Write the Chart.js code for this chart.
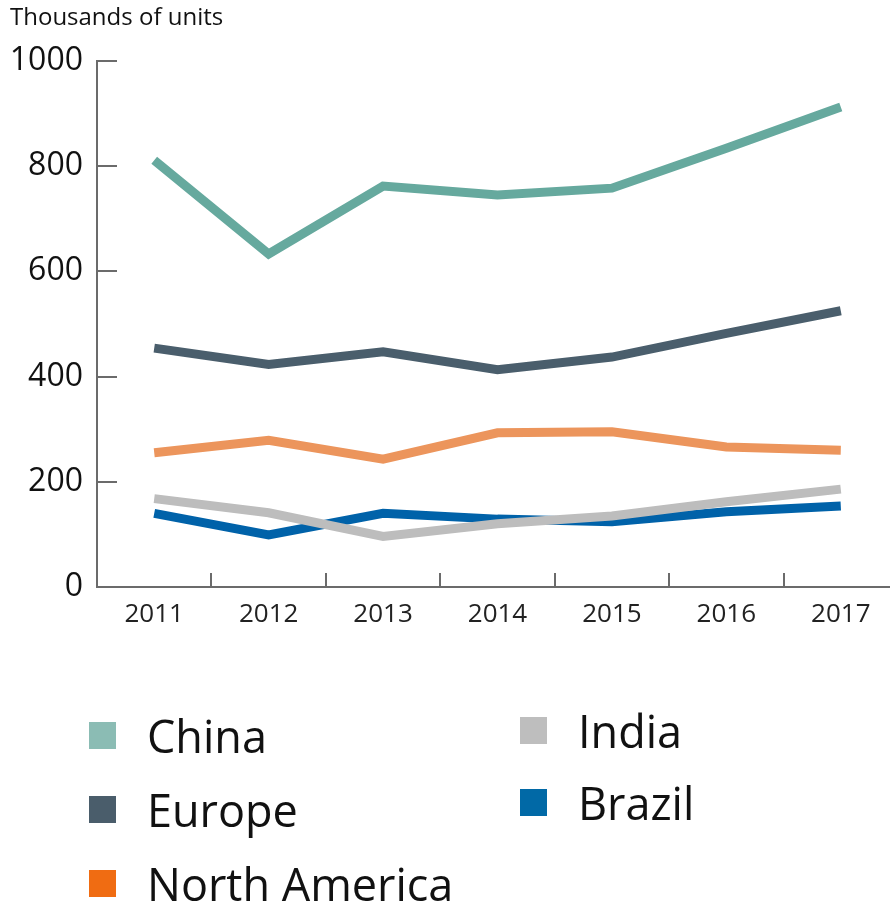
<!DOCTYPE html>
<html>
<head>
<meta charset="utf-8">
<script src="https://cdn.jsdelivr.net/npm/chart.js@4/dist/chart.umd.min.js"></script>
<style>
  html, body { margin: 0; padding: 0; background: #fff; overflow: hidden; }
  #wrap { position: relative; width: 890px; height: 902px; overflow: hidden; }
  #plot { position: absolute; left: 0; top: 0; width: 900px; height: 660px; }
  #legend { position: absolute; left: 0; top: 0; width: 890px; height: 902px;
            font-family: "Open Sans", sans-serif; font-size: 45px; color: #111; }
  .item { position: absolute; display: flex; align-items: center; height: 60px; white-space: nowrap; }
  .box { width: 27px; height: 27px; margin-right: 31px; flex: none; }
</style>
</head>
<body>
<div id="wrap">
  <div id="plot"><canvas id="chart" width="900" height="660"></canvas></div>
  <div id="legend"></div>
</div>
<script>
// Years on the horizontal axis
const years = ['2011', '2012', '2013', '2014', '2015', '2016', '2017'];

// Sales by region, thousands of units
const china        = [811, 633, 762, 745, 758, 834, 912];
const europe       = [454, 423, 447, 413, 437, 482, 525];
const northAmerica = [255, 279, 243, 293, 295, 266, 260];
const india        = [168, 141,  96, 120, 135, 162, 186];
const brazil       = [140,  99, 140, 129, 124, 143, 154];

const seriesNames = ['China', 'Europe', 'North America', 'India', 'Brazil'];
const lineColors   = ['#66a99e', '#4a5e6c', '#ec955c', '#bdbdbd', '#0062a9'];
const legendColors = ['#8bbcb4', '#4a5d6b', '#f06c12', '#bebebe', '#0169a6'];

// Value axis ticks
const yTicks = [0, 200, 400, 600, 800, 1000];

const AXIS_COLOR = '#6b6b6b';

// Short tick marks drawn inward from both axes, placed by the scales
const innerTicks = {
  id: 'innerTicks',
  beforeDatasetsDraw(chart) {
    const { ctx, chartArea, scales } = chart;
    const xs = scales.x, ys = scales.y;
    ctx.save();
    ctx.strokeStyle = AXIS_COLOR;
    ctx.lineWidth = 2;
    ctx.beginPath();
    ys.ticks.forEach((t, i) => {
      const y = Math.round(ys.getPixelForTick(i));
      ctx.moveTo(chartArea.left, y);
      ctx.lineTo(chartArea.left + 20, y);
    });
    for (let i = 1; i <= years.length; i++) {
      const x = Math.round(xs.getPixelForValue(i - 0.5));
      ctx.moveTo(x, chartArea.bottom);
      ctx.lineTo(x, chartArea.bottom - 14);
    }
    ctx.stroke();
    ctx.restore();
  }
};

const values = [china, europe, northAmerica, india, brazil];

const chart = new Chart(document.getElementById('chart'), {
  type: 'line',
  data: {
    labels: years,
    datasets: values.map((v, i) => ({
      label: seriesNames[i],
      data: v,
      borderColor: lineColors[i],
      backgroundColor: lineColors[i],
      borderWidth: 9,
      borderJoinStyle: 'miter',
      borderCapStyle: 'butt',
      pointRadius: 0,
      pointHoverRadius: 0,
      tension: 0,
      fill: false
    }))
  },
  options: {
    responsive: false,
    animation: false,
    devicePixelRatio: 1,
    layout: { padding: { left: 10, right: 2, top: 0, bottom: 0 } },
    plugins: {
      legend: { display: false },
      tooltip: { enabled: false },
      title: {
        display: true,
        text: 'Thousands of units',
        align: 'start',
        color: '#111',
        font: { family: 'Open Sans', size: 24, weight: 'normal', lineHeight: 1.2 },
        padding: { top: 4, bottom: 28 }
      }
    },
    scales: {
      x: {
        type: 'category',
        offset: true,
        grid: { display: true, drawOnChartArea: false, drawTicks: false, color: 'rgba(0,0,0,0)' },
        border: { display: true, color: AXIS_COLOR, width: 2 },
        ticks: {
          color: '#222',
          font: { family: 'Open Sans', size: 26 },
          padding: 12,
          maxRotation: 0,
          autoSkip: false
        },
        afterFit(scale) { scale.height = 73; }
      },
      y: {
        min: 0,
        max: 1000,
        afterBuildTicks(scale) { scale.ticks = yTicks.map(v => ({ value: v })); },
        grid: { display: true, drawOnChartArea: false, drawTicks: false, color: 'rgba(0,0,0,0)' },
        border: { display: true, color: AXIS_COLOR, width: 2 },
        ticks: {
          color: '#111',
          font: { family: 'Open Sans', size: 32 },
          padding: 14,
          callback: (value) => String(value)
        },
        afterFit(scale) { scale.width = 87; }
      }
    }
  },
  plugins: [innerTicks]
});

// Two-column legend built from the chart's datasets
const legendEl = document.getElementById('legend');
const slots = [
  { left: 89, top: 705 }, { left: 89, top: 779 }, { left: 89, top: 853 },
  { left: 520, top: 700 }, { left: 520, top: 772 }
];
chart.data.datasets.forEach((ds, i) => {
  const item = document.createElement('div');
  item.className = 'item';
  item.style.left = slots[i].left + 'px';
  item.style.top = slots[i].top + 'px';
  const box = document.createElement('span');
  box.className = 'box';
  box.style.background = legendColors[i];
  const label = document.createElement('span');
  label.textContent = ds.label;
  item.appendChild(box);
  item.appendChild(label);
  legendEl.appendChild(item);
});
</script>
</body>
</html>
